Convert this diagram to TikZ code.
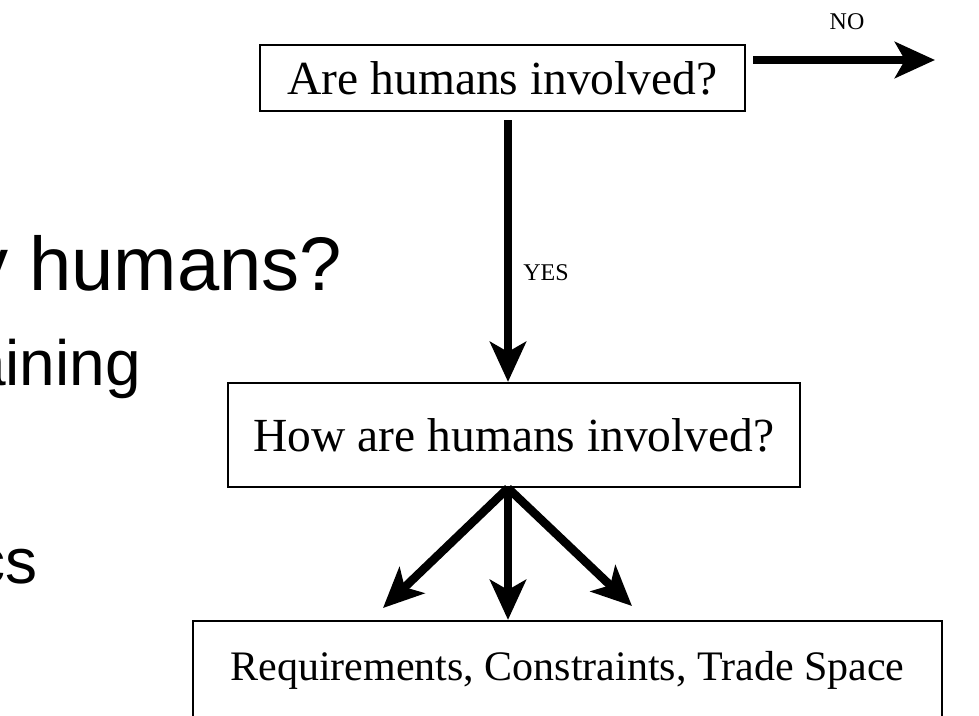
\documentclass[tikz,border=0pt]{standalone}
\usepackage{fontspec}
\setmainfont{Liberation Serif}
\newfontfamily\slidefont{Liberation Sans}
\usetikzlibrary{arrows.meta,calc}

\begin{document}
\begin{tikzpicture}[x=1pt,y=-1pt,
  qbox/.style={draw,line width=2.2pt,inner sep=0pt,align=center,
    font=\fontsize{47.5}{47.5}\selectfont},
  bigarrow/.style={line width=8.5pt,
    -{Stealth[length=40pt,width=36pt,inset=10pt]}},
  tag/.style={inner sep=0pt,font=\fontsize{24}{24}\selectfont},
  slide/.style={inner sep=0pt,anchor=base west}
]
\useasboundingbox (0,0) rectangle (979,715);
\clip (0,0) rectangle (979,715);

% background slide text
\node[slide,font=\slidefont\fontsize{76}{76}\selectfont] (why) at (-30,290) {y humans?};
\node[slide,font=\slidefont\fontsize{64}{64}\selectfont] (train) at (-30,385) {aining};
\node[slide,anchor=base east,font=\slidefont\fontsize{64}{64}\selectfont] (ics) at (38,583) {cs};

% decision boxes
\node[qbox,minimum width=485pt,minimum height=66pt] (q1) at (502.5,78) {Are humans involved?};
\node[qbox,minimum width=572pt,minimum height=104pt] (q2) at (514,435) {How are humans involved?};
\node[qbox,anchor=base,text height=59pt,text depth=80pt,minimum width=749pt,
  font=\fontsize{42}{42}\selectfont]
  (res) at (567.5,680) {Requirements, Constraints, Trade Space};

% axis of the vertical flow
\path (508,0) coordinate (axis);

% NO branch
\coordinate (noend) at (935,60);
\draw[bigarrow] ([xshift=7pt]q1.east |- noend) -- (noend);
\node[tag] (no) at (847,22) {NO};

% YES branch
\draw[bigarrow] ([yshift=-8pt]q1.south -| axis) -- (q2.north -| axis);
\node[tag] (yes) at (546,273) {YES};

% fan-out to the result box
\coordinate (lefttip) at (383,608);
\coordinate (righttip) at (632,606);
\draw[bigarrow] (q2.south -| axis) -- (lefttip);
\draw[bigarrow] (q2.south -| axis) -- (res.north -| axis);
\draw[bigarrow] (q2.south -| axis) -- (righttip);
\end{tikzpicture}
\end{document}
